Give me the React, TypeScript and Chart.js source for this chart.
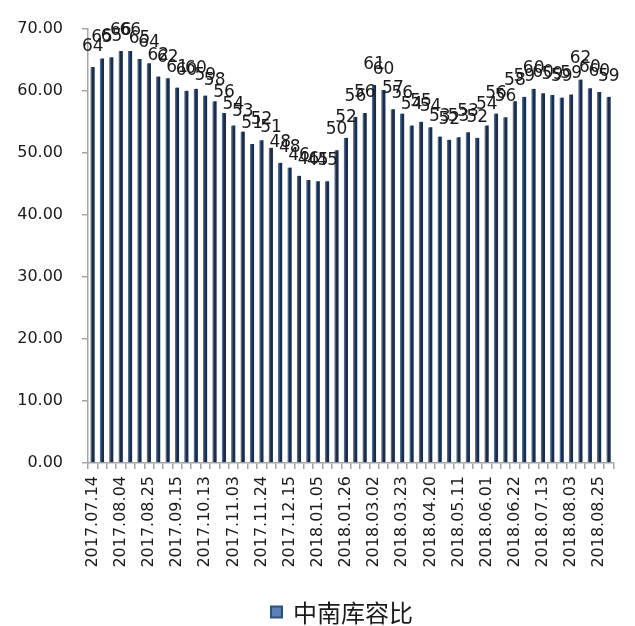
import React, { useEffect, useRef } from "react";
import { Chart, registerables } from "chart.js";

Chart.register(...registerables);

const categories: string[] = [
  "2017.07.14", "2017.07.21", "2017.07.28", "2017.08.04", "2017.08.11", "2017.08.18",
  "2017.08.25", "2017.09.01", "2017.09.08", "2017.09.15", "2017.09.22", "2017.09.29",
  "2017.10.13", "2017.10.20", "2017.10.27", "2017.11.03", "2017.11.10", "2017.11.17",
  "2017.11.24", "2017.12.01", "2017.12.08", "2017.12.15", "2017.12.22", "2017.12.29",
  "2018.01.05", "2018.01.12", "2018.01.19", "2018.01.26", "2018.02.02", "2018.02.09",
  "2018.03.02", "2018.03.09", "2018.03.16", "2018.03.23", "2018.03.30", "2018.04.13",
  "2018.04.20", "2018.04.27", "2018.05.04", "2018.05.11", "2018.05.18", "2018.05.25",
  "2018.06.01", "2018.06.08", "2018.06.15", "2018.06.22", "2018.06.29", "2018.07.06",
  "2018.07.13", "2018.07.20", "2018.07.27", "2018.08.03", "2018.08.10", "2018.08.17",
  "2018.08.25", "2018.08.31",
];

const ratioValues: number[] = [
  63.8, 65.2, 65.4, 66.4, 66.4, 65.1, 64.4, 62.3, 62.0, 60.5, 60.0, 60.3,
  59.2, 58.3, 56.4, 54.4, 53.4, 51.4, 52.0, 50.8, 48.4, 47.6, 46.3, 45.6,
  45.4, 45.4, 50.4, 52.4, 55.8, 56.4, 60.9, 60.1, 57.0, 56.3, 54.4, 55.0,
  54.1, 52.6, 52.1, 52.5, 53.3, 52.4, 54.4, 56.3, 55.7, 58.3, 59.0, 60.3,
  59.6, 59.3, 58.9, 59.4, 61.8, 60.4, 59.8, 59.0,
];

const yTicks: number[] = [0, 10, 20, 30, 40, 50, 60, 70];
const seriesName = "中南库容比";
const labelEvery = 3;

const BAR_DARK = "#1d2d47";
const BAR_LIGHT = "#4a6c98";

export default function App() {
  const canvasRef = useRef<HTMLCanvasElement | null>(null);

  useEffect(() => {
    document.body.style.margin = "0";
    const canvas = canvasRef.current;
    if (!canvas) return;

    const dataLabels = {
      id: "dataLabels",
      afterDatasetsDraw(chart: any) {
        const ctx = chart.ctx;
        const meta = chart.getDatasetMeta(0);
        ctx.save();
        ctx.font = '17px "DejaVu Sans"';
        ctx.fillStyle = "#1a1a1a";
        ctx.textAlign = "center";
        ctx.textBaseline = "alphabetic";
        meta.data.forEach((bar: any, i: number) => {
          const v = chart.data.datasets[0].data[i] as number;
          ctx.fillText(String(Math.round(v)), bar.x, bar.y - 16);
        });
        ctx.restore();
      },
    };

    const customLegend = {
      id: "customLegend",
      afterDraw(chart: any) {
        const ctx = chart.ctx;
        ctx.save();
        ctx.font = '24px "Noto Sans CJK SC"';
        const textW = ctx.measureText(seriesName).width;
        const box = 13;
        const gap = 10;
        const total = box + gap + textW;
        const cx = chart.width / 2 + 24;
        const x0 = cx - total / 2;
        const cy = chart.height - 14;
        ctx.fillStyle = "#2f4f7c";
        ctx.fillRect(x0, cy - box / 2, box, box);
        ctx.fillStyle = "#5a80b4";
        ctx.fillRect(x0 + 2, cy - box / 2 + 2, box - 4, box - 4);
        ctx.fillStyle = "#1a1a1a";
        ctx.textAlign = "left";
        ctx.textBaseline = "middle";
        ctx.fillText(seriesName, x0 + box + gap, cy + 1);
        ctx.restore();
      },
    };

    const chart = new Chart(canvas, {
      type: "bar",
      data: {
        labels: categories,
        datasets: [
          {
            label: seriesName,
            data: ratioValues,
            backgroundColor: BAR_DARK,
            borderColor: BAR_LIGHT,
            borderWidth: { left: 1.5, right: 0, top: 0, bottom: 0 },
            borderSkipped: false,
            barThickness: 4,
          },
        ],
      },
      options: {
        responsive: false,
        animation: false,
        layout: { padding: { top: 24, right: 11, bottom: 40, left: 0 } },
        plugins: {
          legend: { display: false },
          tooltip: { enabled: false },
        },
        scales: {
          x: {
            offset: true,
            border: { display: true, color: "#a6a6a6", width: 1.5 },
            grid: {
              offset: true,
              drawOnChartArea: false,
              drawTicks: true,
              tickLength: 6,
              color: "#a6a6a6",
              lineWidth: 1.5,
            },
            ticks: {
              autoSkip: false,
              minRotation: 90,
              maxRotation: 90,
              padding: 7,
              color: "#1a1a1a",
              font: { family: "DejaVu Sans", size: 16 },
              callback: (_v: any, i: number) => (i % labelEvery === 0 ? categories[i] : ""),
            },
            afterFit: (scale: any) => {
              scale.height = 123;
            },
          },
          y: {
            min: yTicks[0],
            max: yTicks[yTicks.length - 1],
            border: { display: true, color: "#a6a6a6", width: 1.5 },
            grid: {
              drawOnChartArea: false,
              drawTicks: true,
              tickLength: 6,
              color: "#a6a6a6",
              lineWidth: 1.5,
            },
            afterBuildTicks: (scale: any) => {
              scale.ticks = yTicks.map((v) => ({ value: v }));
            },
            ticks: {
              padding: 19,
              color: "#1a1a1a",
              font: { family: "DejaVu Sans", size: 16 },
              callback: (v: any) => Number(v).toFixed(2),
            },
            afterFit: (scale: any) => {
              scale.width = 88;
            },
          },
        },
      },
      plugins: [dataLabels, customLegend],
    });

    return () => chart.destroy();
  }, []);

  return (
    <div style={{ width: 635, height: 626 }}>
      <canvas ref={canvasRef} width={635} height={626} style={{ display: "block" }} />
    </div>
  );
}
